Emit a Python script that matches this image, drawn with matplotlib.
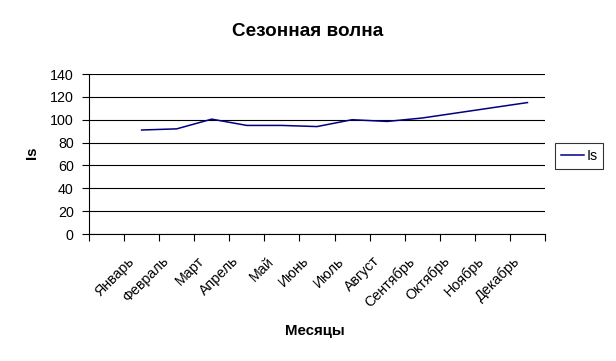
import matplotlib.pyplot as plt
import matplotlib.transforms as mtransforms
from matplotlib.ticker import FixedLocator, NullFormatter

# Data (first category slot on the axis is empty)
months = ['Январь', 'Февраль', 'Март', 'Апрель', 'Май', 'Июнь',
          'Июль', 'Август', 'Сентябрь', 'Октябрь', 'Ноябрь', 'Декабрь']
seasonal_wave = [91, 92, 100.5, 95, 95, 94, 100, 98.5, 101.5, 106, 110.5, 115]
y_ticks = [0, 20, 40, 60, 80, 100, 120, 140]

plt.rcParams['font.family'] = ['Liberation Sans', 'DejaVu Sans']

fig = plt.figure(figsize=(6.16, 3.61), dpi=100)
W, H = 616, 361
# Plot area taken from the pixel positions in the picture
ax = fig.add_axes([89 / W, 1 - 234 / H, (545 - 89) / W, (234 - 74) / H])

# Category centres: slot 0 is blank, months sit in slots 1..12
x_pos = [i + 1.5 for i in range(len(months))]
ax.plot(x_pos, seasonal_wave, color='#000080', lw=1.1, label='Is')

ax.set_xlim(0, len(months) + 1)
ax.set_ylim(0, 140)
ax.set_yticks(y_ticks)
ax.yaxis.grid(True, color='black', lw=0.8)
ax.set_axisbelow(True)

# Tick marks on the category boundaries, labels in the middle
ax.xaxis.set_major_locator(FixedLocator(range(len(months) + 2)))
ax.xaxis.set_major_formatter(NullFormatter())
ax.xaxis.set_minor_locator(FixedLocator(x_pos))
ax.set_xticklabels(months, minor=True)
ax.tick_params(axis='x', which='major', length=5, width=0.8, direction='out', color='black')
ax.tick_params(axis='x', which='minor', length=0, pad=18, labelsize=10.3)
ax.tick_params(axis='y', length=5, width=0.8, direction='out', labelsize=10.3, pad=6)
# nudge the slanted month names to the left, like Excel does
shift = mtransforms.ScaledTranslation(-10 / 100, 0, fig.dpi_scale_trans)
for lbl in ax.get_xticklabels(minor=True):
    lbl.set_rotation(45)
    lbl.set_ha('right')
    lbl.set_va('center')
    lbl.set_rotation_mode('anchor')
    lbl.set_transform(lbl.get_transform() + shift)

for side in ['top', 'right']:
    ax.spines[side].set_visible(False)
for side in ['left', 'bottom']:
    ax.spines[side].set_color('black')
    ax.spines[side].set_linewidth(0.8)

# Titles placed where they are in the picture
fig.text(307.5 / W, 1 - 36 / H, 'Сезонная волна', ha='center', va='baseline',
         fontsize=13.6, fontweight='bold')
fig.text(32 / W, 1 - 153 / H, 'Is', ha='center', va='center', rotation=90,
         fontsize=10.8, fontweight='bold')
fig.text(314.5 / W, 1 - 334.5 / H, 'Месяцы', ha='center', va='baseline',
         fontsize=10.8, fontweight='bold')

leg = ax.legend(loc='center left', bbox_to_anchor=(555 / W, 1 - 156 / H),
                bbox_transform=fig.transFigure, fontsize=10.3, handlelength=1.6,
                handletextpad=0.2, borderpad=0.4, borderaxespad=0, fancybox=False)
leg.get_frame().set_edgecolor('black')
leg.get_frame().set_linewidth(0.8)

fig.savefig('out.png', dpi=100)
